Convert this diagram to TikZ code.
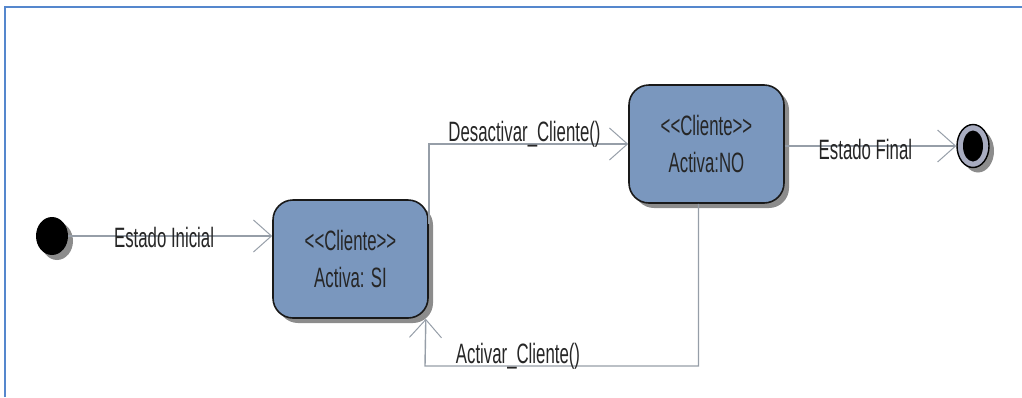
\documentclass[tikz,border=0pt]{standalone}
\usepackage{fontspec}
\setmainfont{Liberation Sans}[FakeStretch=0.6]
\usetikzlibrary{shapes.geometric,shadows,arrows.meta}
\definecolor{cajaazul}{RGB}{122,151,190}
\definecolor{gris}{RGB}{150,158,168}
\definecolor{marco}{RGB}{85,135,205}
\definecolor{anillo}{RGB}{168,172,192}
\newcommand{\estereo}[1]{<\kern0pt<#1>\kern0pt>}
\tikzset{
  sombra/.style={drop shadow={shadow xshift=5pt, shadow yshift=-5pt, opacity=1, fill=gray!90}},
  estado/.style={draw=black!90, line width=1.6pt, fill=cajaazul, rounded corners=20pt,
    minimum width=155pt, minimum height=118pt, align=center, sombra,
    font=\fontsize{28}{37}\selectfont, text=black!85},
  linea/.style={gris, line width=1.4pt, -{Straight Barb[length=18pt, width=32pt, line width=1pt]}},
  etiqueta/.style={font=\fontsize{28}{32}\selectfont, text=black!85, inner sep=0pt, anchor=base}
}
\begin{document}
\begin{tikzpicture}[x=1pt, y=-1pt]
\useasboundingbox (0,0) rectangle (1022,397);
\draw[marco, line width=2.5pt] (5,397) -- (5,7) -- (1022,7);
\node[ellipse, fill=black, minimum width=32pt, minimum height=38pt, sombra] (ini) at (52,236) {};
\node[estado] (si) at (350.5,259) {\estereo{Cliente}\\Activa: SI};
\node[estado] (no) at (706.5,144) {\estereo{Cliente}\\Activa:NO};
\node[ellipse, draw=black, line width=1.4pt, fill=anillo, minimum width=32pt, minimum height=43pt, sombra] (fin) at (973,146) {};
\node[ellipse, fill=black, minimum width=20pt, minimum height=31pt] (fin2) at (fin) {};
\coordinate (giro) at (425,366);
\draw[linea] (ini.east) -- (ini.east -| si.west) node[etiqueta, pos=0.47, yshift=-11pt] {Estado Inicial};
\draw[linea] ([yshift=35pt]si.east) |- (no.west) node[etiqueta, pos=0.74, yshift=3pt] {Desactivar\_Cliente()};
\draw[linea] (no.east |- fin.west) -- (fin.west) node[etiqueta, pos=0.47, yshift=-13pt] {Estado Final};
\draw[linea] ([xshift=-8pt]no.south) |- (giro) node[etiqueta, pos=0.83, yshift=3pt] {Activar\_Cliente()} -- ([xshift=-3pt]si.south east);
\end{tikzpicture}
\end{document}
